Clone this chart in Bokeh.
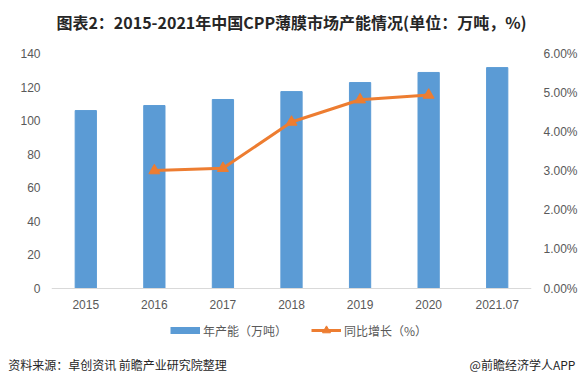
from bokeh.plotting import figure
from bokeh.models import (ColumnDataSource, Range1d, LinearAxis, Span,
                          NumeralTickFormatter, Legend, LegendItem, FixedTicker, Title)
from bokeh.core.properties import value
from bokeh.embed import file_html
from bokeh.resources import INLINE

years = ["2015", "2016", "2017", "2018", "2019", "2020", "2021.07"]
capacity = [106.0, 109.0, 112.6, 117.3, 122.7, 128.7, 131.6]
growth_years = ["2016", "2017", "2018", "2019", "2020"]
growth = [0.0301, 0.0307, 0.0425, 0.0482, 0.0494]
left_ticks = [0, 20, 40, 60, 80, 100, 120, 140]
right_ticks = [0.0, 0.01, 0.02, 0.03, 0.04, 0.05, 0.06]

title_text = "图表2：2015-2021年中国CPP薄膜市场产能情况(单位：万吨，%)"
source_text = "资料来源：卓创资讯 前瞻产业研究院整理"
brand_text = "@前瞻经济学人APP"
bar_label = "年产能（万吨）"
line_label = "同比增长（%）"

CJK = "Noto Sans CJK SC"
NUM = "Liberation Sans"
GRAY = "#595959"
DARK = "#262626"
BLUE = "#5B9BD5"
ORANGE = "#ED7D31"

# layout (pixels)
W, H = 583, 387
ML, MR, MT, MB = 51, 52, 38, 42
FW = W - ML - MR
FH = H - MT - MB
AX_H = 235          # pixel height of the 0..140 value span
ABOVE = 15          # frame space above the top tick
BELOW = FH - AX_H - ABOVE   # frame space below the baseline (labels + legend)
LMAX, PMAX = 140, 0.06
lpp, ppp = LMAX / AX_H, PMAX / AX_H

xpos = list(range(len(years)))
gpos = [years.index(y) for y in growth_years]

p = figure(width=W, height=H, x_range=Range1d(-0.5, len(years) - 0.5),
           y_range=Range1d(-BELOW * lpp, LMAX + ABOVE * lpp),
           output_backend="svg", toolbar_location=None, x_axis_type=None,
           min_border_left=ML, min_border_right=MR, min_border_top=MT,
           min_border_bottom=MB)
p.outline_line_color = None
p.grid.visible = False
p.extra_y_ranges = {"pct": Range1d(-BELOW * ppp, PMAX + ABOVE * ppp)}
p.extra_x_ranges = {"foot": Range1d(0, FW)}

# baseline
p.add_layout(Span(location=0, dimension="width", line_color="#d9d9d9", line_width=1))

src = ColumnDataSource(dict(x=xpos, capacity=capacity, label=years))
bars = p.vbar(x="x", top="capacity", width=0.31, color=BLUE, source=src)

lsrc = ColumnDataSource(dict(x=gpos, growth=growth))
ln = p.line(x="x", y="growth", source=lsrc, y_range_name="pct",
            color=ORANGE, line_width=3)
mk = p.scatter(x="x", y="growth", source=lsrc, y_range_name="pct",
               marker="triangle", size=11, color=ORANGE)

# category labels under the baseline
src.data["ly"] = [-16 * lpp] * len(years)
p.text(x="x", y="ly", text="label", source=src, text_font=value(NUM),
       text_font_size="12px", text_color=GRAY, text_align="center",
       text_baseline="middle")

# legend swatch for the bars (one undefined point: draws nothing in the plot)
swatch = p.line(x=[0], y=[float("nan")], color=BLUE, line_width=7)

right = LinearAxis(y_range_name="pct")
p.add_layout(right, "right")
p.yaxis[0].ticker = FixedTicker(ticks=left_ticks)
right.ticker = FixedTicker(ticks=right_ticks)
right.formatter = NumeralTickFormatter(format="0.00%")

for ax in p.yaxis:
    ax.axis_line_color = None
    ax.major_tick_line_color = None
    ax.minor_tick_line_color = None
    ax.major_tick_out = 0
    ax.major_tick_in = 0
    ax.minor_tick_out = 0
    ax.major_label_text_color = GRAY
    ax.major_label_text_font = NUM
    ax.major_label_text_font_size = "12px"
p.yaxis[0].major_label_standoff = 11
right.major_label_standoff = 12

legend = Legend(items=[LegendItem(label=bar_label, renderers=[swatch]),
                       LegendItem(label=line_label, renderers=[ln, mk])],
                orientation="horizontal", location=(119, 5),
                glyph_width=30, glyph_height=20, label_standoff=3, spacing=24,
                padding=0, margin=0, border_line_color=None,
                background_fill_alpha=0, label_text_font=CJK,
                label_text_font_size="12px", label_text_color=GRAY)
p.add_layout(legend, "center")

# footer texts as labels of an extra axis under the frame
foot_pos = [66, 471]
fax = LinearAxis(x_range_name="foot", ticker=FixedTicker(ticks=foot_pos),
                 major_label_overrides={foot_pos[0]: source_text, foot_pos[1]: brand_text})
fax.axis_line_color = None
fax.major_tick_line_color = None
fax.minor_tick_line_color = None
fax.major_tick_out = 0
fax.major_tick_in = 0
fax.minor_tick_out = 0
fax.major_label_standoff = 10
fax.major_label_text_font = CJK
fax.major_label_text_font_size = "12px"
fax.major_label_text_color = DARK
p.add_layout(fax, "below")

title = Title(text=title_text, align="center", text_font=CJK, text_font_size="16px",
              text_font_style="bold", text_color=DARK)
p.add_layout(title, "above")

open("out.html", "w").write(file_html(p, INLINE))
